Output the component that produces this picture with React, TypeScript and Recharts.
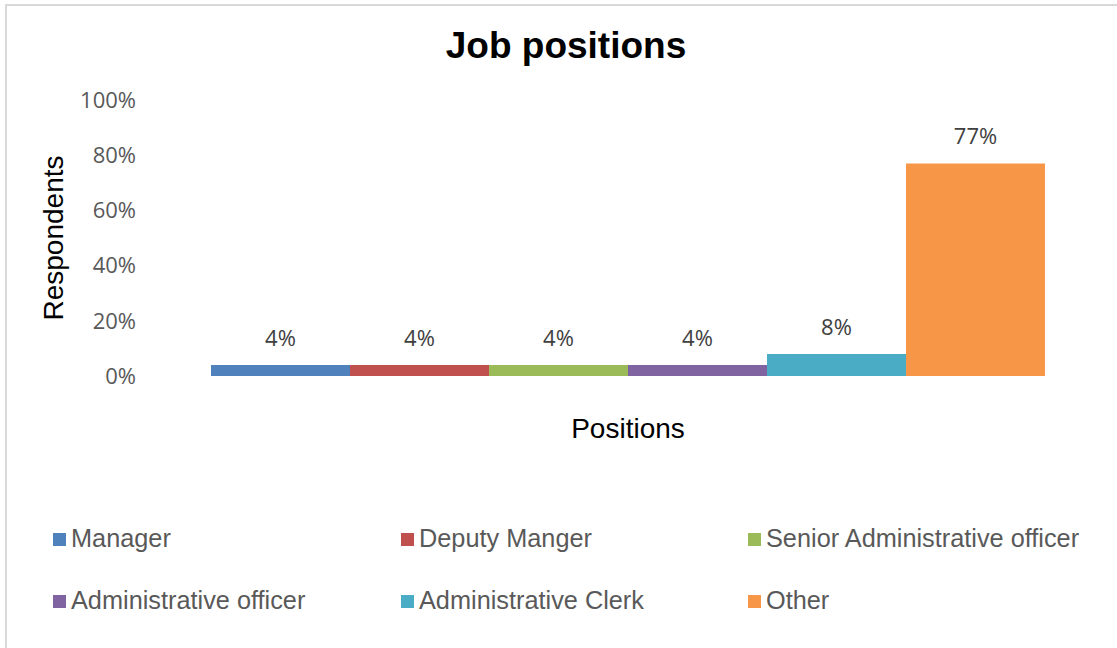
import React from 'react';
import { BarChart, Bar, XAxis, YAxis, LabelList } from 'recharts';

const positions = [
  'Manager',
  'Deputy Manger',
  'Senior Administrative officer',
  'Administrative officer',
  'Administrative Clerk',
  'Other',
];
const shares = [4, 4, 4, 4, 8, 77];
const colors = ['#4f81bd', '#c0504d', '#9bbb59', '#8064a2', '#4bacc6', '#f79646'];
const yTicks = [0, 20, 40, 60, 80, 100];

const row: Record<string, string | number> = { group: 'Positions' };
positions.forEach((p, i) => {
  row[p] = shares[i];
});
const data = [row];

const legendCols = [53, 401, 748];
const legendRows = [547, 609.5];
const legendFont = 25.3;

function ChartLegend() {
  return (
    <>
      {positions.map((p, i) => {
        const left = legendCols[i % 3];
        const baseline = legendRows[Math.floor(i / 3)];
        return (
          <div key={p}>
            <div
              style={{
                position: 'absolute',
                left,
                top: baseline - 14.5,
                width: 13,
                height: 13,
                background: colors[i],
              }}
            />
            <div
              style={{
                position: 'absolute',
                left: left + 18,
                top: baseline - 0.8465 * legendFont,
                fontFamily: '"Liberation Sans", Arial, sans-serif',
                fontSize: legendFont,
                lineHeight: `${legendFont}px`,
                color: '#595959',
                whiteSpace: 'nowrap',
              }}
            >
              {p}
            </div>
          </div>
        );
      })}
    </>
  );
}

export default function App() {
  return (
    <div
      style={{
        position: 'absolute',
        left: 0,
        top: 0,
        width: 1117,
        height: 648,
        overflow: 'hidden',
        background: '#fff',
      }}
    >
      <div
        style={{
          position: 'absolute',
          left: 5,
          top: 4,
          width: 1130,
          height: 660,
          borderLeft: '2px solid #d9d9d9',
          borderTop: '2px solid #d9d9d9',
        }}
      />
      <div
        style={{
          position: 'absolute',
          left: 366,
          top: 26.7,
          width: 400,
          textAlign: 'center',
          fontFamily: '"Liberation Sans", Arial, sans-serif',
          fontWeight: 'bold',
          fontSize: 37,
          lineHeight: '37px',
          color: '#000',
        }}
      >
        Job positions
      </div>
      <div style={{ position: 'absolute', left: 0, top: 0 }}>
        <BarChart
          width={1117}
          height={648}
          data={data}
          barGap={0}
          margin={{ top: 100, right: 6, left: 0, bottom: 212 }}
        >
          <XAxis
            dataKey="group"
            height={60}
            tick={false}
            tickLine={false}
            axisLine={false}
            label={{
              value: 'Positions',
              position: 'insideTop',
              offset: 42,
              fill: '#000',
              fontSize: 28,
              fontFamily: '"Liberation Sans", Arial, sans-serif',
            }}
          />
          <YAxis
            width={145}
            domain={[0, 100]}
            ticks={yTicks}
            interval={0}
            tickFormatter={(v) => `${v}%`}
            axisLine={false}
            tickLine={false}
            tickSize={0}
            tickMargin={9}
            tick={{ fill: '#595959', fontSize: 22, fontFamily: '"Open Sans", sans-serif' }}
            label={{
              value: 'Respondents',
              angle: -90,
              position: 'insideLeft',
              offset: 53,
              fill: '#000',
              fontSize: 28,
              fontFamily: '"Liberation Sans", Arial, sans-serif',
              style: { textAnchor: 'middle' },
            }}
          />
          {positions.map((p, i) => (
            <Bar key={p} dataKey={p} fill={colors[i]} barSize={139} isAnimationActive={false}>
              <LabelList
                dataKey={p}
                position="top"
                offset={19}
                formatter={(v: number) => `${v}%`}
                fill="#404040"
                fontSize={22}
                fontFamily='"Open Sans", sans-serif'
              />
            </Bar>
          ))}
        </BarChart>
      </div>
      <ChartLegend />
    </div>
  );
}
